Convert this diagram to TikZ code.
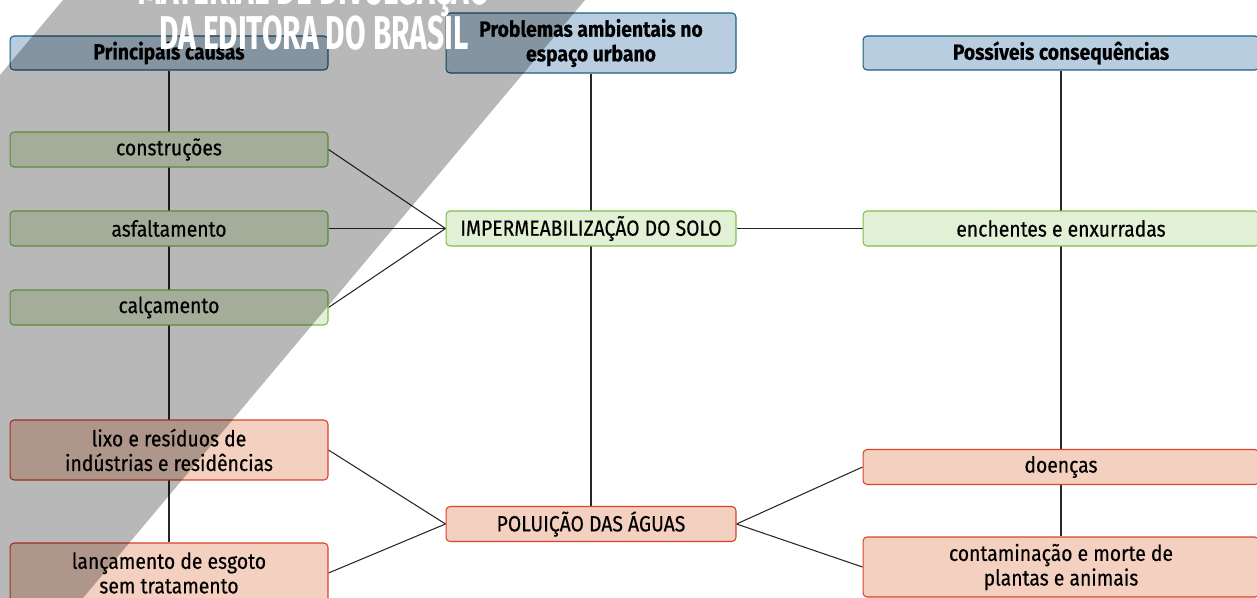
\documentclass[tikz,border=0pt]{standalone}
\usepackage{fontspec}
\setmainfont{Fira Sans}[FakeStretch=0.88, FakeBold=0.4]
\newfontfamily\wmfont[FakeStretch=0.63]{Fira Sans}
\usepackage{tikz}
\usetikzlibrary{calc, backgrounds}
\definecolor{hdfill}{HTML}{B8CEE0}
\definecolor{hdline}{HTML}{1B5E7E}
\definecolor{gnfill}{HTML}{E2F0D6}
\definecolor{gnline}{HTML}{7DBF4A}
\definecolor{rdfill}{HTML}{F3D0C0}
\definecolor{rdline}{HTML}{D9432B}
\tikzstyle{box}=[draw, shape=rectangle, rounded corners=0.08cm, line width=0.6pt, inner sep=1pt, align=center, font=\fontsize{12.5}{14}\selectfont]
\tikzstyle{hd}=[box, fill=hdfill, draw=hdline, font=\fontsize{12.5}{14}\selectfont\bfseries]
\tikzstyle{gn}=[box, fill=gnfill, draw=gnline]
\tikzstyle{rd}=[box, fill=rdfill, draw=rdline]
\tikzstyle{link}=[line width=0.6pt, black!85]

\begin{document}
\begin{tikzpicture}[x=0.02cm, y=-0.02cm]
\useasboundingbox (0,0) rectangle (1257,598);
\clip (0,0) rectangle (1257,598);
% the headers
\node[hd, minimum width=6.36cm, minimum height=0.68cm] (causas) at (169,53) {Principais causas};
\node[hd, minimum width=5.8cm, minimum height=1.2cm] (problemas) at (591,43) {Problemas ambientais no\\espaço urbano};
\node[hd, minimum width=7.92cm, minimum height=0.68cm] (consequencias) at (1061,53) {Possíveis consequências};
% the causes
\node[gn, minimum width=6.36cm, minimum height=0.7cm] (construcoes) at (169,149.5) {construções};
\node[gn, minimum width=6.36cm, minimum height=0.7cm] (asfalto) at (169,228.5) {asfaltamento};
\node[gn, minimum width=6.36cm, minimum height=0.7cm] (calcamento) at (169,307.5) {calçamento};
\node[rd, minimum width=6.36cm, minimum height=1.2cm] (lixo) at (169,450) {lixo e resíduos de\\indústrias e residências};
\node[rd, minimum width=6.36cm, minimum height=1.2cm] (esgoto) at (169,573) {lançamento de esgoto\\sem tratamento};
% the problems
\node[gn, minimum width=5.8cm, minimum height=0.7cm] (imperm) at (591,228.5) {IMPERMEABILIZAÇÃO DO SOLO};
\node[rd, minimum width=5.8cm, minimum height=0.7cm] (poluicao) at (591,524) {POLUIÇÃO DAS ÁGUAS};
% the consequences
\node[gn, minimum width=7.92cm, minimum height=0.7cm] (enchentes) at (1061,228.5) {enchentes e enxurradas};
\node[rd, minimum width=7.92cm, minimum height=0.7cm] (doencas) at (1061,467) {doenças};
\node[rd, minimum width=7.92cm, minimum height=1.2cm] (contam) at (1061,567) {contaminação e morte de\\plantas e animais};
% the connectors
\begin{scope}[on background layer]
\draw[link] (causas) -- (esgoto);
\draw[link] (problemas) -- (poluicao);
\draw[link] (consequencias) -- (contam);
\draw[link] (construcoes.east) -- (imperm.west);
\draw[link] (asfalto.east) -- (imperm.west);
\draw[link] (calcamento.east) -- (imperm.west);
\draw[link] (lixo.east) -- (poluicao.west);
\draw[link] (esgoto.east) -- (poluicao.west);
\draw[link] (imperm.east) -- (enchentes.west);
\draw[link] (poluicao.east) -- (doencas.west);
\draw[link] (poluicao.east) -- (contam.west);
\end{scope}
% the watermark
\fill[black, opacity=0.28] (63,0) -- (585,0) -- (83,598) -- (0,598) -- (0,75) -- cycle;
\node[anchor=base, text=white, font=\wmfont\bfseries\fontsize{27}{27}\selectfont, inner sep=0pt] (wm1) at (314,5) {MATERIAL DE DIVULGAÇÃO};
\node[anchor=base, text=white, font=\wmfont\bfseries\fontsize{27}{27}\selectfont, inner sep=0pt] (wm2) at (314,50) {DA EDITORA DO BRASIL};
\end{tikzpicture}
\end{document}
